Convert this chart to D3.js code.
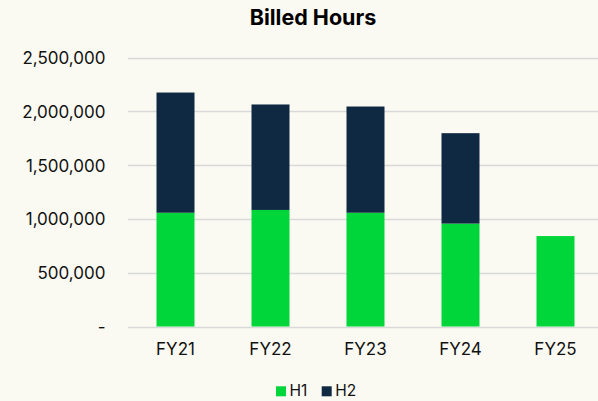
<!DOCTYPE html>
<html><head><meta charset="utf-8">
<script src="https://cdn.jsdelivr.net/npm/d3@7"></script>
<style>
html,body{margin:0;padding:0;background:#fafaf2;}
svg{display:block;font-family:Inter,"Noto Sans",sans-serif;}
</style></head>
<body><svg id="c" width="598" height="401"></svg>
<script>
const categories = ["FY21","FY22","FY23","FY24","FY25"];
const h1 = [1058000, 1084000, 1058000, 957000, 841000];
const h2 = [1118000, 981000, 988000, 841000, 0];
const yTicks = [0, 500000, 1000000, 1500000, 2000000, 2500000];
const seriesNames = ["H1","H2"];
const colors = ["#00d639","#0f2942"];

const svg = d3.select("#c");
const x = d3.scaleBand().domain(categories).range([128, 603]).paddingInner(0.6).paddingOuter(0.3);
const y = d3.scaleLinear().domain([0, 2500000]).range([326.5, 57.7]);

svg.append("text").attr("x", 313).attr("y", 25).attr("text-anchor","middle")
  .attr("font-size", 21.5).attr("font-weight", 700).attr("fill","#000").text("Billed Hours");

// gridlines
svg.append("g").selectAll("line").data(yTicks).join("line")
  .attr("x1", 128).attr("x2", 598)
  .attr("y1", d => Math.round(y(d))+0.5).attr("y2", d => Math.round(y(d))+0.5)
  .attr("stroke", "#d9d9d9").attr("stroke-width", 1.3);

const fmt = d => d === 0 ? "-" : d3.format(",")(d);
const yAxis = d3.axisLeft(y).tickValues(yTicks).tickFormat(fmt).tickSize(0).tickPadding(0);
const gy = svg.append("g").attr("transform","translate(105.5,0)").call(yAxis);
gy.select(".domain").remove();
gy.selectAll("text").attr("font-size", 17).attr("fill","#111").attr("font-family","Inter, sans-serif").attr("dy","0.35em");

const data = categories.map((c,i) => ({cat:c, H1:h1[i], H2:h2[i]}));
const stack = d3.stack().keys(seriesNames)(data);
svg.append("g").selectAll("g").data(stack).join("g")
  .attr("fill", (d,i) => colors[i])
  .selectAll("rect").data(d => d.filter(p => p[1]-p[0] > 0)).join("rect")
  .attr("x", d => x(d.data.cat)).attr("width", x.bandwidth())
  .attr("y", d => y(d[1])).attr("height", d => y(d[0]) - y(d[1]));

const xAxis = d3.axisBottom(x).tickSize(0).tickPadding(0);
const gx = svg.append("g").attr("transform","translate(0,355)").call(xAxis);
gx.select(".domain").remove();
gx.selectAll("text").attr("font-size", 17).attr("fill","#111").attr("font-family","Inter, sans-serif").attr("dy", 0);

// legend
const legX = [276, 321.7];
const leg = svg.append("g").selectAll("g").data(seriesNames).join("g")
  .attr("transform", (d,i) => `translate(${legX[i]},386.3)`);
leg.append("rect").attr("width", 10).attr("height", 10).attr("fill", (d,i) => colors[i]);
leg.append("text").attr("x", 13.5).attr("y", 10).attr("font-size", 15.5).attr("fill","#111").text(d => d);
</script></body></html>
